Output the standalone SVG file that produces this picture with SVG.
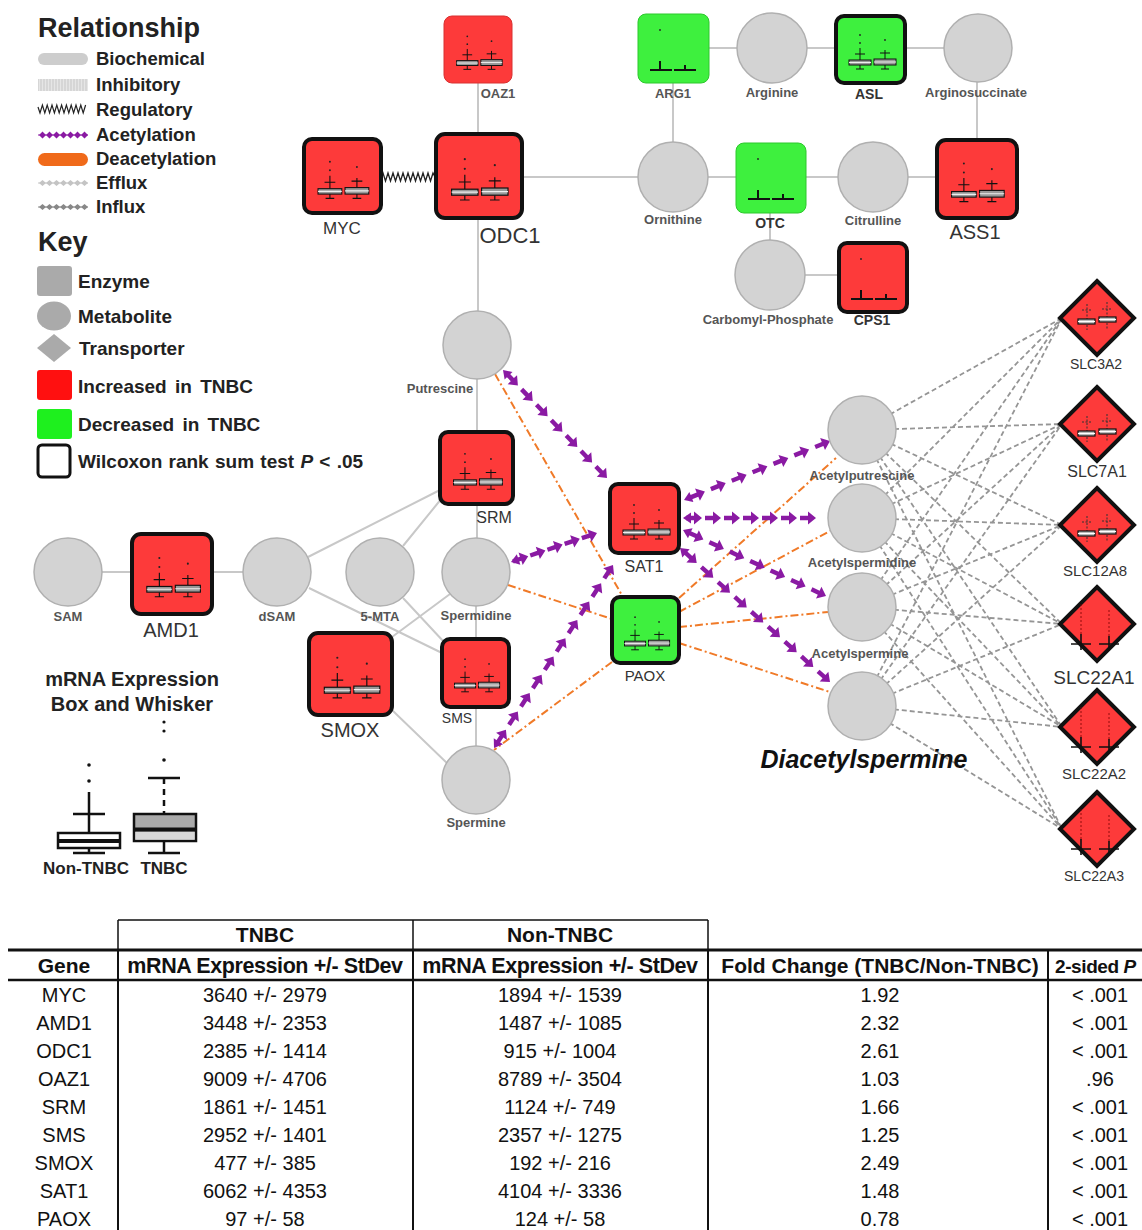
<svg xmlns="http://www.w3.org/2000/svg" xmlns:xlink="http://www.w3.org/1999/xlink" width="1142" height="1230" viewBox="0 0 1142 1230">
<style>
text{font-family:"Liberation Sans",Arial,sans-serif}
.red{fill:#fd3a3a}
.grn{fill:#3ef03e}
.thick{stroke:#111;stroke-width:4}
.thinr{stroke:#d83030;stroke-width:1}
.thing{stroke:#2cc82c;stroke-width:1}
.met{fill:#d3d3d3;stroke:#b0b0b0;stroke-width:1.5}
.bio{stroke:#c8c8c8;stroke-width:2;fill:none}
.deac{stroke:#f07a28;stroke-width:2;stroke-dasharray:8 3 2 3;fill:none}
.flux{stroke:#959595;stroke-width:1.8;stroke-dasharray:5 3;fill:none}
.acet{fill:none;stroke:none;marker-start:url(#acS);marker-mid:url(#acA);marker-end:url(#acA)}
.ls{font-size:13px;font-weight:bold;fill:#555;text-anchor:middle}
.ll{fill:#333;text-anchor:middle}
.lg{font-size:18.5px;font-weight:bold;fill:#222}
.hd{font-size:27px;font-weight:bold;fill:#222}
.th{font-size:21px;font-weight:bold;fill:#111;text-anchor:middle}
.td{font-size:20px;fill:#111;text-anchor:middle}
.tl{stroke:#111;fill:none}
</style>
<defs>
<marker id="acA" markerUnits="userSpaceOnUse" viewBox="-10 -8 20 16" markerWidth="20" markerHeight="16" refX="8" refY="0" orient="auto" overflow="visible">
<path d="M-8,-2.2 L0,-2.2 L0,-6.5 L8,0 L0,6.5 L0,2.2 L-8,2.2 Z" fill="#8a1aa3"/>
</marker>
<marker id="acS" markerUnits="userSpaceOnUse" viewBox="-10 -8 20 16" markerWidth="20" markerHeight="16" refX="2" refY="0" orient="auto-start-reverse" overflow="visible">
<path d="M-6,-5.5 L2,0 L-6,5.5 Z" fill="#8a1aa3"/>
</marker>
<pattern id="inh" width="3" height="12" patternUnits="userSpaceOnUse">
<rect width="3" height="12" fill="#d6d6d6"/><rect width="1" height="12" fill="#e6e6e6"/>
</pattern>
<g id="bp">
<path d="M24,34V46 M19,40H29 M24,51V55 M20,55H28 M49,36V45 M44,39H54 M49,51V55 M45,55H53" stroke="#111" stroke-width="1" fill="none"/>
<circle cx="24" cy="21" r="0.9" fill="#222"/><circle cx="24" cy="29" r="0.9" fill="#222"/><circle cx="49" cy="26" r="0.9" fill="#222"/>
<rect x="13" y="46" width="22" height="5" fill="#999" stroke="#111" stroke-width="1"/>
<rect x="38" y="45" width="22" height="6" fill="#999" stroke="#111" stroke-width="1"/>
<path d="M13,48.5H35 M38,48H60" stroke="#eee" stroke-width="1"/>
</g>
<g id="bf">
<path d="M12,56H34 M36,56H58 M22,47V56 M47,51V56" stroke="#111" stroke-width="2" fill="none"/>
<circle cx="22" cy="16" r="0.9" fill="#222"/>
</g>
<g id="dbp">
<path d="M-10,-14V12 M10,-16V12 M-15,-8H-5 M5,-9H15" stroke="#333" stroke-width="1" stroke-dasharray="2 1.5" fill="none"/>
<rect x="-19" y="1" width="17" height="5" fill="#bbb" stroke="#111" stroke-width="1.2"/>
<rect x="2" y="-1" width="17" height="5" fill="#bbb" stroke="#111" stroke-width="1.2"/>
<path d="M-19,3.5H-2 M2,1.5H19" stroke="#fff" stroke-width="1"/>
</g>
<g id="dx">
<path d="M-26,20H-6 M-16,10V26 M2,20H22 M12,12V24" stroke="#111" stroke-width="1.6" fill="none"/>
<path d="M-16,-20V10 M12,-14V12" stroke="#700" stroke-width="0.8" stroke-dasharray="2 2" fill="none"/>
</g>
</defs>
<rect width="1142" height="1230" fill="#fff"/>

<g id="legend">
<text class="hd" x="38" y="37">Relationship</text>
<rect x="38" y="53" width="50" height="12" rx="6" fill="#cdcdcd"/>
<text class="lg" x="96" y="65">Biochemical</text>
<rect x="38" y="79" width="50" height="12" fill="url(#inh)"/>
<text class="lg" x="96" y="91">Inhibitory</text>
<path d="M38,107 l2,6 l2.4,-8 l2.4,8 l2.4,-8 l2.4,8 l2.4,-8 l2.4,8 l2.4,-8 l2.4,8 l2.4,-8 l2.4,8 l2.4,-8 l2.4,8 l2.4,-8 l2.4,8 l2.4,-8 l2.4,8 l2.4,-8 l2.4,8 l2.4,-8" stroke="#222" stroke-width="1.2" fill="none"/>
<text class="lg" x="96" y="116">Regulatory</text>
<path d="M38,135h50" stroke="#8a1aa3" stroke-width="1"/>
<path d="M39,135l3.5,-3.5l3.5,3.5l-3.5,3.5z M46,135l3.5,-3.5l3.5,3.5l-3.5,3.5z M53,135l3.5,-3.5l3.5,3.5l-3.5,3.5z M60,135l3.5,-3.5l3.5,3.5l-3.5,3.5z M67,135l3.5,-3.5l3.5,3.5l-3.5,3.5z M74,135l3.5,-3.5l3.5,3.5l-3.5,3.5z M81,135l3.5,-3.5l3.5,3.5l-3.5,3.5z" fill="#8a1aa3"/>
<text class="lg" x="96" y="141">Acetylation</text>
<rect x="38" y="153" width="50" height="13" rx="6.5" fill="#f06a1a"/>
<text class="lg" x="96" y="165">Deacetylation</text>
<path d="M38,183h50" stroke="#c4c4c4" stroke-width="1"/>
<path d="M39,183l3.5,-3l3.5,3l-3.5,3z M46,183l3.5,-3l3.5,3l-3.5,3z M53,183l3.5,-3l3.5,3l-3.5,3z M60,183l3.5,-3l3.5,3l-3.5,3z M67,183l3.5,-3l3.5,3l-3.5,3z M74,183l3.5,-3l3.5,3l-3.5,3z M81,183l3.5,-3l3.5,3l-3.5,3z" fill="#c4c4c4"/>
<text class="lg" x="96" y="189">Efflux</text>
<path d="M38,207h50" stroke="#888" stroke-width="1"/>
<path d="M39,207l3.5,-3l3.5,3l-3.5,3z M46,207l3.5,-3l3.5,3l-3.5,3z M53,207l3.5,-3l3.5,3l-3.5,3z M60,207l3.5,-3l3.5,3l-3.5,3z M67,207l3.5,-3l3.5,3l-3.5,3z M74,207l3.5,-3l3.5,3l-3.5,3z M81,207l3.5,-3l3.5,3l-3.5,3z" fill="#888"/>
<text class="lg" x="96" y="213">Influx</text>
<text class="hd" x="38" y="251">Key</text>
<rect x="37" y="266" width="35" height="30" rx="3" fill="#aaa"/>
<text class="lg" x="78" y="288" style="font-size:19px">Enzyme</text>
<ellipse cx="54" cy="316" rx="17" ry="14.5" fill="#aaa"/>
<text class="lg" x="78" y="323" style="font-size:19px">Metabolite</text>
<polygon points="54,334 71,348 54,362 37,348" fill="#aaa"/>
<text class="lg" x="79" y="355" style="font-size:19px">Transporter</text>
<rect x="37" y="370" width="35" height="30" rx="3" fill="#ff1010"/>
<text class="lg" x="78" y="393" style="font-size:19px;word-spacing:3px">Increased in TNBC</text>
<rect x="37" y="409" width="35" height="30" rx="3" fill="#1ef01e"/>
<text class="lg" x="78" y="431" style="font-size:19px;word-spacing:3px">Decreased in TNBC</text>
<rect x="38" y="445" width="32" height="32" rx="4" fill="#fff" stroke="#111" stroke-width="3"/>
<text class="lg" x="78" y="468" style="font-size:19px;word-spacing:1px">Wilcoxon rank sum test <tspan font-style="italic">P</tspan> &lt; .05</text>
</g>

<g id="boxwhisker-legend">
<text class="lg" x="132" y="686" style="font-size:20px;text-anchor:middle">mRNA Expression</text>
<text class="lg" x="132" y="711" style="font-size:20px;text-anchor:middle">Box and Whisker</text>
<circle cx="164" cy="722" r="1.6" fill="#111"/><circle cx="164" cy="731" r="1.6" fill="#111"/>
<circle cx="89" cy="765" r="1.8" fill="#111"/><circle cx="89" cy="781" r="1.8" fill="#111"/>
<path d="M89,792V833 M73,814H105 M89,848V853 M73,853H105" stroke="#111" stroke-width="2.5" fill="none"/>
<rect x="58" y="833" width="62" height="15" fill="#fff" stroke="#111" stroke-width="2.5"/>
<path d="M58,841H120" stroke="#111" stroke-width="4"/>
<circle cx="164" cy="760" r="1.8" fill="#111"/>
<path d="M148,778H180 M164,841V853 M148,853H180" stroke="#111" stroke-width="2.5" fill="none"/>
<path d="M164,778V814" stroke="#111" stroke-width="2.5" stroke-dasharray="6 5"/>
<rect x="134" y="814" width="62" height="27" fill="#aaa" stroke="#111" stroke-width="2.5"/>
<rect x="135.3" y="832" width="59.4" height="7.7" fill="#d8d8d8"/>
<path d="M134,829.5H196" stroke="#111" stroke-width="4"/>
<text class="lg" x="86" y="874" style="font-size:17px;text-anchor:middle">Non-TNBC</text>
<text class="lg" x="164" y="874" style="font-size:17px;text-anchor:middle">TNBC</text>
</g>

<g id="connectors">
<path class="bio" d="M478,83V134 M522,177H638 M709,48H737 M807,48H836 M905,48H944 M673,83V142 M977,82V140 M708,177H736 M806,177H838 M908,177H937 M770,213V240 M805,275H839 M478,218V311 M477,379V432 M477,504V538 M102,572H132 M212,572H243 M308,557L440,490 M403,546L442,498 M309,588L442,653 M403,598L444,642 M450,594L392,637 M476,606V639 M476,707V746 M392,710L450,766"/>
<path d="M381,177 l2,-4 l2.5,8 l2.5,-8 l2.5,8 l2.5,-8 l2.5,8 l2.5,-8 l2.5,8 l2.5,-8 l2.5,8 l2.5,-8 l2.5,8 l2.5,-8 l2.5,8 l2.5,-8 l2.5,8 l2.5,-8 l2.5,8 l2.5,-8 l2.5,8 l2.5,-8 l2,4" stroke="#222" stroke-width="1.3" fill="none"/>
<path class="flux" d="M862,430L1062,318 M862,430L1062,424 M862,430L1062,525 M862,430L1062,624 M862,430L1062,727 M862,430L1062,829 M862,518L1062,318 M862,518L1062,424 M862,518L1062,525 M862,518L1062,624 M862,518L1062,727 M862,518L1062,829 M862,607L1062,318 M862,607L1062,424 M862,607L1062,525 M862,607L1062,624 M862,607L1062,727 M862,607L1062,829 M862,706L1062,318 M862,706L1062,424 M862,706L1062,525 M862,706L1062,624 M862,706L1062,727 M862,706L1062,829"/>
<path class="deac" d="M495,374L623,597 M508,585L612,619 M612,662L494,750 M679,598L836,458 M679,612L830,531 M679,627L828,612 M679,643L830,692"/>
<polyline class="acet" points="503,370 517.9,385.4 532.7,400.9 547.6,416.3 562.4,431.7 577.3,447.1 592.1,462.6 607,478"/>
<polyline class="acet" points="511,562 528.2,556.2 545.4,550.4 562.6,544.6 579.8,538.8 597,533"/>
<polyline class="acet" points="494,748 505.9,729.7 517.8,711.4 529.7,693.1 541.6,674.8 553.5,656.5 565.4,638.2 577.3,619.9 589.2,601.6 601.1,583.3 613,565"/>
<polyline class="acet" points="684,500 704.9,491.6 725.7,483.1 746.6,474.7 767.4,466.3 788.3,457.9 809.1,449.4 830,441"/>
<polyline class="acet" points="683,518 702,518 721,518 740,518 759,518 778,518 797,518 816,518"/>
<polyline class="acet" points="683,530 703.4,539.4 723.9,548.9 744.3,558.3 764.7,567.7 785.1,577.1 805.6,586.6 826,596"/>
<polyline class="acet" points="680,548 696.7,562.9 713.3,577.8 730,592.7 746.7,607.6 763.3,622.4 780,637.3 796.7,652.2 813.3,667.1 830,682"/>
</g>

<g id="metabolites">
<g id="n-arginine"><circle class="met" cx="772" cy="48" r="35"/><text class="ls" x="772" y="97">Arginine</text></g>
<g id="n-arginosuccinate"><circle class="met" cx="978" cy="48" r="34"/><text class="ls" x="976" y="97">Arginosuccinate</text></g>
<g id="n-ornithine"><circle class="met" cx="673" cy="177" r="35"/><text class="ls" x="673" y="224">Ornithine</text></g>
<g id="n-citrulline"><circle class="met" cx="873" cy="177" r="35"/><text class="ls" x="873" y="225">Citrulline</text></g>
<g id="n-carbomyl"><circle class="met" cx="770" cy="275" r="35"/><text class="ls" x="768" y="324">Carbomyl-Phosphate</text></g>
<g id="n-putrescine"><circle class="met" cx="477" cy="345" r="34"/><text class="ls" x="440" y="393">Putrescine</text></g>
<g id="n-sam"><circle class="met" cx="68" cy="572" r="34"/><text class="ls" x="68" y="621">SAM</text></g>
<g id="n-dsam"><circle class="met" cx="277" cy="572" r="34"/><text class="ls" x="277" y="621">dSAM</text></g>
<g id="n-5mta"><circle class="met" cx="380" cy="572" r="34"/><text class="ls" x="380" y="621">5-MTA</text></g>
<g id="n-spermidine"><circle class="met" cx="476" cy="572" r="34"/><text class="ls" x="476" y="620">Spermidine</text></g>
<g id="n-spermine"><circle class="met" cx="476" cy="780" r="34"/><text class="ls" x="476" y="827">Spermine</text></g>
<g id="n-acetylputrescine"><circle class="met" cx="862" cy="430" r="34"/><text class="ls" x="862" y="480">Acetylputrescine</text></g>
<g id="n-acetylspermidine"><circle class="met" cx="862" cy="518" r="34"/><text class="ls" x="862" y="567">Acetylspermidine</text></g>
<g id="n-acetylspermine"><circle class="met" cx="862" cy="607" r="34"/><text class="ls" x="860" y="658">Acetylspermine</text></g>
<g id="n-diacetylspermine"><circle class="met" cx="862" cy="706" r="34"/><text x="864" y="768" font-size="25" font-weight="bold" font-style="italic" fill="#111" text-anchor="middle">Diacetylspermine</text></g>
</g>

<g id="enzymes">
<g id="n-oaz1"><rect class="red thinr" x="444" y="16" width="68" height="67" rx="8"/><use href="#bp" transform="translate(444,16) scale(0.97)"/><text class="ls" x="498" y="98">OAZ1</text></g>
<g id="n-myc"><rect class="red thick" x="304" y="139" width="77" height="74" rx="8"/><use href="#bp" transform="translate(304,139) scale(1.08)"/><text class="ll" x="342" y="234" font-size="17">MYC</text></g>
<g id="n-odc1"><rect class="red thick" x="436" y="134" width="86" height="84" rx="9"/><use href="#bp" transform="translate(436,134) scale(1.2)"/><text class="ll" x="510" y="243" font-size="22">ODC1</text></g>
<g id="n-arg1"><rect class="grn thing" x="638" y="14" width="71" height="69" rx="8"/><use href="#bf" transform="translate(638,14)"/><text class="ls" x="673" y="98">ARG1</text></g>
<g id="n-asl"><rect class="grn thick" x="836" y="16" width="69" height="67" rx="8"/><use href="#bp" transform="translate(836,14)"/><text class="ll" x="869" y="99" font-size="14" font-weight="bold">ASL</text></g>
<g id="n-otc"><rect class="grn thing" x="736" y="143" width="70" height="70" rx="8"/><use href="#bf" transform="translate(736,143)"/><text class="ll" x="770" y="228" font-size="14" font-weight="bold">OTC</text></g>
<g id="n-ass1"><rect class="red thick" x="937" y="140" width="80" height="78" rx="9"/><use href="#bp" transform="translate(937,140) scale(1.12)"/><text class="ll" x="975" y="239" font-size="20">ASS1</text></g>
<g id="n-cps1"><rect class="red thick" x="839" y="243" width="68" height="69" rx="8"/><use href="#bf" transform="translate(839,243)"/><text class="ll" x="872" y="325" font-size="14" font-weight="bold">CPS1</text></g>
<g id="n-srm"><rect class="red thick" x="440" y="432" width="73" height="72" rx="8"/><use href="#bp" transform="translate(440,432) scale(1.04)"/><text class="ll" x="494" y="523" font-size="16">SRM</text></g>
<g id="n-amd1"><rect class="red thick" x="132" y="534" width="80" height="80" rx="9"/><use href="#bp" transform="translate(132,534) scale(1.14)"/><text class="ll" x="171" y="637" font-size="20">AMD1</text></g>
<g id="n-smox"><rect class="red thick" x="309" y="633" width="83" height="82" rx="9"/><use href="#bp" transform="translate(309,633) scale(1.18)"/><text class="ll" x="350" y="737" font-size="20">SMOX</text></g>
<g id="n-sms"><rect class="red thick" x="442" y="639" width="67" height="68" rx="8"/><use href="#bp" transform="translate(442,639) scale(0.96)"/><text class="ll" x="457" y="723" font-size="14">SMS</text></g>
<g id="n-sat1"><rect class="red thick" x="610" y="484" width="69" height="69" rx="8"/><use href="#bp" transform="translate(610,484)"/><text class="ll" x="644" y="572" font-size="16">SAT1</text></g>
<g id="n-paox"><rect class="grn thick" x="612" y="597" width="67" height="66" rx="8"/><use href="#bp" transform="translate(612,597) scale(0.96)"/><text class="ll" x="645" y="681" font-size="15">PAOX</text></g>
</g>

<g id="transporters">
<g id="n-slc3a2"><polygon class="red thick" points="1097,281 1134,318 1097,355 1060,318"/><use href="#dbp" transform="translate(1097,318)"/><text class="ll" x="1096" y="369" font-size="14">SLC3A2</text></g>
<g id="n-slc7a1"><polygon class="red thick" points="1097,387 1134,424 1097,461 1060,424"/><use href="#dbp" transform="translate(1097,430)"/><text class="ll" x="1097" y="477" font-size="16">SLC7A1</text></g>
<g id="n-slc12a8"><polygon class="red thick" points="1097,488 1134,525 1097,562 1060,525"/><use href="#dbp" transform="translate(1097,530)"/><text class="ll" x="1095" y="576" font-size="15">SLC12A8</text></g>
<g id="n-slc22a1"><polygon class="red thick" points="1097,587 1134,624 1097,661 1060,624"/><use href="#dx" transform="translate(1097,624)"/><text class="ll" x="1094" y="684" font-size="19">SLC22A1</text></g>
<g id="n-slc22a2"><polygon class="red thick" points="1097,690 1134,727 1097,764 1060,727"/><use href="#dx" transform="translate(1097,727)"/><text class="ll" x="1094" y="779" font-size="15">SLC22A2</text></g>
<g id="n-slc22a3"><polygon class="red thick" points="1097,792 1134,829 1097,866 1060,829"/><use href="#dx" transform="translate(1097,829)"/><text class="ll" x="1094" y="881" font-size="14">SLC22A3</text></g>
</g>

<g id="table">
<path class="tl" stroke-width="1.5" d="M118,920H708 M118,920V950 M413,920V950 M708,920V950"/>
<path class="tl" stroke-width="3" d="M8,950H1142"/>
<path class="tl" stroke-width="2.5" d="M8,980H1142"/>
<path class="tl" stroke-width="2" d="M118,950V1230 M413,950V1230 M708,950V1230 M1048,950V1230"/>
<text class="th" x="265" y="942">TNBC</text>
<text class="th" x="560" y="942">Non-TNBC</text>
<text class="th" x="64" y="973">Gene</text>
<text class="th" x="265" y="973" style="font-size:21.5px;letter-spacing:-0.4px">mRNA Expression +/- StDev</text>
<text class="th" x="560" y="973" style="font-size:21.5px;letter-spacing:-0.4px">mRNA Expression +/- StDev</text>
<text class="th" x="880" y="973" style="font-size:21px">Fold Change (TNBC/Non-TNBC)</text>
<text class="th" x="1055" y="973" style="text-anchor:start;font-size:19px;letter-spacing:-0.4px">2-sided <tspan font-style="italic">P</tspan></text>
<g class="rows">
<text class="td" x="64" y="1002">MYC</text><text class="td" x="265" y="1002">3640 +/- 2979</text><text class="td" x="560" y="1002">1894 +/- 1539</text><text class="td" x="880" y="1002">1.92</text><text class="td" x="1100" y="1002">&lt; .001</text>
<text class="td" x="64" y="1030">AMD1</text><text class="td" x="265" y="1030">3448 +/- 2353</text><text class="td" x="560" y="1030">1487 +/- 1085</text><text class="td" x="880" y="1030">2.32</text><text class="td" x="1100" y="1030">&lt; .001</text>
<text class="td" x="64" y="1058">ODC1</text><text class="td" x="265" y="1058">2385 +/- 1414</text><text class="td" x="560" y="1058">915 +/- 1004</text><text class="td" x="880" y="1058">2.61</text><text class="td" x="1100" y="1058">&lt; .001</text>
<text class="td" x="64" y="1086">OAZ1</text><text class="td" x="265" y="1086">9009 +/- 4706</text><text class="td" x="560" y="1086">8789 +/- 3504</text><text class="td" x="880" y="1086">1.03</text><text class="td" x="1100" y="1086">.96</text>
<text class="td" x="64" y="1114">SRM</text><text class="td" x="265" y="1114">1861 +/- 1451</text><text class="td" x="560" y="1114">1124 +/- 749</text><text class="td" x="880" y="1114">1.66</text><text class="td" x="1100" y="1114">&lt; .001</text>
<text class="td" x="64" y="1142">SMS</text><text class="td" x="265" y="1142">2952 +/- 1401</text><text class="td" x="560" y="1142">2357 +/- 1275</text><text class="td" x="880" y="1142">1.25</text><text class="td" x="1100" y="1142">&lt; .001</text>
<text class="td" x="64" y="1170">SMOX</text><text class="td" x="265" y="1170">477 +/- 385</text><text class="td" x="560" y="1170">192 +/- 216</text><text class="td" x="880" y="1170">2.49</text><text class="td" x="1100" y="1170">&lt; .001</text>
<text class="td" x="64" y="1198">SAT1</text><text class="td" x="265" y="1198">6062 +/- 4353</text><text class="td" x="560" y="1198">4104 +/- 3336</text><text class="td" x="880" y="1198">1.48</text><text class="td" x="1100" y="1198">&lt; .001</text>
<text class="td" x="64" y="1226">PAOX</text><text class="td" x="265" y="1226">97 +/- 58</text><text class="td" x="560" y="1226">124 +/- 58</text><text class="td" x="880" y="1226">0.78</text><text class="td" x="1100" y="1226">&lt; .001</text>
</g>
</g>
</svg>
